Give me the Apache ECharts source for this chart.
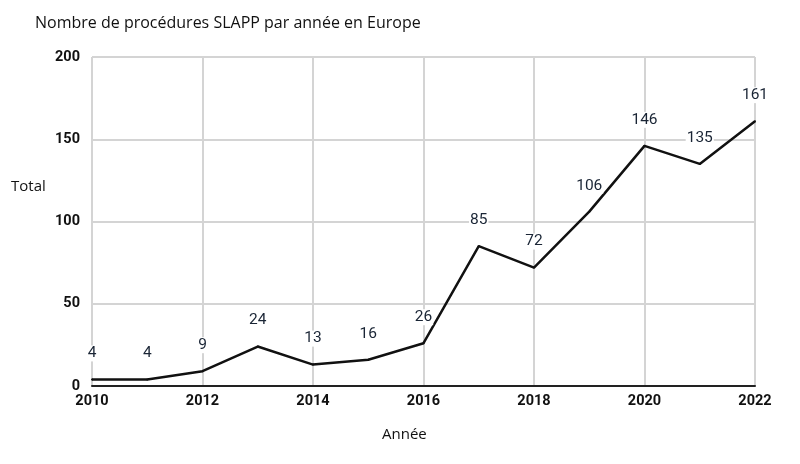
<!DOCTYPE html>
<html>
<head>
<meta charset="utf-8">
<script src="https://cdn.jsdelivr.net/npm/echarts@6/dist/echarts.min.js"></script>
<style>html,body{margin:0;padding:0;background:#fff;}#c{width:800px;height:464px;}</style>
</head>
<body>
<div id="c"></div>
<script>
const years = [2010,2011,2012,2013,2014,2015,2016,2017,2018,2019,2020,2021,2022];
const totals = [4,4,9,24,13,16,26,85,72,106,146,135,161];
const titleText = "Nombre de procédures SLAPP par année en Europe";
const yName = "Total";
const xName = "Année";

const chart = echarts.init(document.getElementById('c'));
chart.setOption({
  animation:false,
  backgroundColor:'#fff',
  title:{text:titleText,left:30,top:10,textStyle:{fontFamily:'Open Sans',fontSize:16,fontWeight:'normal',color:'#111'}},
  grid:{left:92,right:45,top:57,bottom:78},
  graphic:[
    {type:'text',left:11,top:179,style:{text:yName,font:'15px "Open Sans"',fill:'#111'}},
    {type:'text',left:382,top:427,style:{text:xName,font:'15px "Open Sans"',fill:'#111'}}
  ],
  xAxis:{type:'value',min:2010,max:2022,interval:2,
    axisLine:{show:true,lineStyle:{color:'#222',width:2}},
    axisTick:{show:false},
    axisLabel:{color:'#111',fontFamily:'Roboto',fontWeight:'bold',fontSize:14.5,margin:8,formatter:v=>String(v)},
    splitLine:{show:true,lineStyle:{color:'#d4d4d4',width:2}}},
  yAxis:{type:'value',min:0,max:200,interval:50,
    axisLine:{show:false},axisTick:{show:false},
    axisLabel:{color:'#111',fontFamily:'Roboto',fontWeight:'bold',fontSize:14.5,margin:12},
    splitLine:{show:true,lineStyle:{color:'#d4d4d4',width:2}}},
  series:[{type:'line',data:years.map((y,i)=>[y,totals[i]]),
    showSymbol:true,symbol:'circle',symbolSize:2,
    itemStyle:{color:'#111'},
    lineStyle:{color:'#111',width:2.5},
    label:{show:true,position:'top',distance:17,color:'#1a2535',fontFamily:'Roboto',fontSize:15.5,
      backgroundColor:'#fff',padding:[0,1],formatter:p=>p.value[1]},
  }]
});
</script>
</body>
</html>
